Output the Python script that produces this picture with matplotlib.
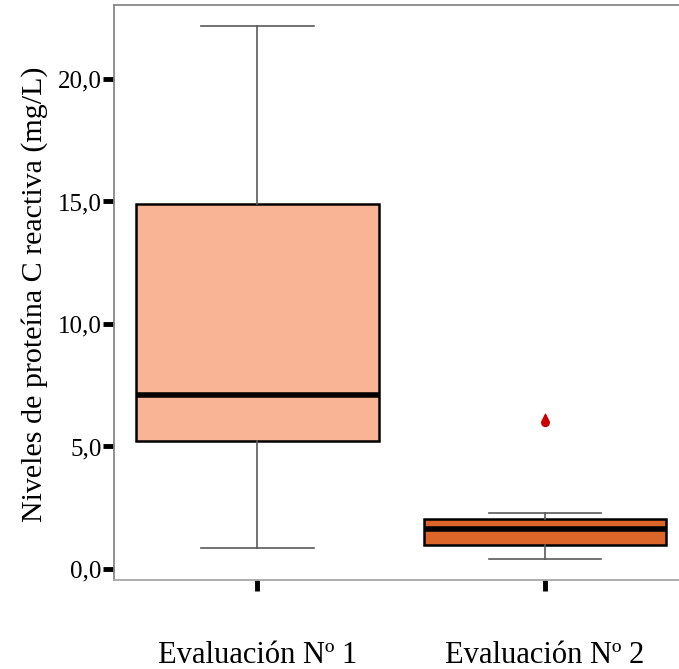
import matplotlib
matplotlib.use("Agg")
import matplotlib.pyplot as plt
from matplotlib.path import Path
import numpy as np

categories = ["Evaluación Nº 1", "Evaluación Nº 2"]
q1 = [5.22, 0.98]
med = [7.10, 1.63]
q3 = [14.90, 2.04]
whislo = [0.86, 0.41]
whishi = [22.18, 2.29]
fliers = [[], [6.08]]
colors = ["#F9B395", "#DC652A"]
yticks = [0, 5, 10, 15, 20]
ytick_labels = ["0,0", "5,0", "10,0", "15,0", "20,0"]
ylabel = "Niveles de proteína C reactiva (mg/L)"

plt.rcParams["font.family"] = ["Liberation Serif", "DejaVu Serif"]

fig = plt.figure(figsize=(6.79, 6.69), dpi=100)
ax = fig.add_axes([114/679, 89/669, 565/679, 575/669])

stats = []
for i in range(len(categories)):
    stats.append(dict(q1=q1[i], med=med[i], q3=q3[i], whislo=whislo[i],
                      whishi=whishi[i], fliers=fliers[i], label=categories[i]))

# teardrop marker: tip on top, round bottom
t = np.linspace(0.2 * np.pi, -1.2 * np.pi, 40)
verts = [(0.0, 1.0)] + [(0.6 * np.cos(a), -0.35 + 0.6 * np.sin(a)) for a in t] + [(0.0, 1.0)]
codes = [Path.MOVETO] + [Path.LINETO] * (len(verts) - 2) + [Path.CLOSEPOLY]
drop = Path(verts, codes)

bp = ax.bxp(stats, positions=[1, 2], widths=0.845, patch_artist=True,
            boxprops=dict(edgecolor="black", linewidth=1.8),
            medianprops=dict(color="black", linewidth=4),
            whiskerprops=dict(color="#5a5a5a", linewidth=1.2),
            capprops=dict(color="#5a5a5a", linewidth=1.2),
            capwidths=0.39,
            flierprops=dict(marker=drop, markersize=9, markerfacecolor="#CC0000",
                            markeredgecolor="#CC0000", linestyle="none"))
for patch, c in zip(bp["boxes"], colors):
    patch.set_facecolor(c)

ax.set_xlim(0.501, 2.466)
ax.set_ylim(-0.45, 23.02)
ax.set_yticks(yticks)
ax.set_yticklabels(ytick_labels, fontsize=18)
ax.set_xticks([1, 2])
ax.set_xticklabels(categories, fontsize=22)
ax.tick_params(axis="y", direction="out", length=8, width=3.5, color="black", pad=1)
ax.tick_params(axis="x", direction="out", length=8, width=3.5, color="black", pad=36)

ax.spines["right"].set_visible(False)
ax.spines["left"].set_color("#888888")
ax.spines["top"].set_color("#888888")
ax.spines["bottom"].set_color("#A8A8A8")
for s in ["left", "top", "bottom"]:
    ax.spines[s].set_linewidth(1.3)

ax.set_ylabel(ylabel, fontsize=21.6)
ax.yaxis.set_label_coords(-0.117, 0.497)

fig.savefig("out.png", dpi=100)
